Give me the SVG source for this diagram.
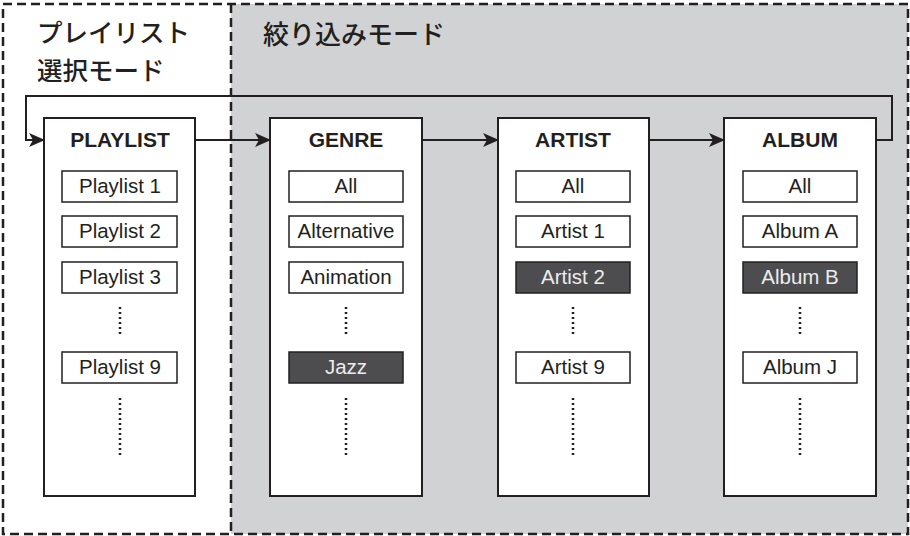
<svg xmlns="http://www.w3.org/2000/svg" width="910" height="536" viewBox="0 0 910 536">
<defs>
<style>
.col{fill:#fff;stroke:#231f20;stroke-width:2}
.it{fill:#fff;stroke:#231f20;stroke-width:1.5}
.sel{fill:#4d4d4f;stroke:#231f20;stroke-width:1.5}
.t{font-family:"Liberation Sans",Arial,sans-serif;font-size:20.5px;fill:#231f20;text-anchor:middle}
.ts{font-family:"Liberation Sans",Arial,sans-serif;font-size:20.5px;fill:#ececec;text-anchor:middle}
.h{font-family:"Liberation Sans",Arial,sans-serif;font-size:21px;font-weight:bold;fill:#231f20;text-anchor:middle}
.jp{font-family:"Noto Sans CJK JP","Noto Sans",sans-serif;font-size:26px;font-weight:500;fill:#231f20}
.jp2{font-family:"Noto Sans CJK JP","Noto Sans",sans-serif;font-size:25.5px;font-weight:500;fill:#231f20}
.dots{stroke:#231f20;stroke-width:2.5;stroke-dasharray:2 3}
.cn{fill:none;stroke:#231f20;stroke-width:2}
.dash{fill:none;stroke:#231f20;stroke-width:2.5;stroke-dasharray:9 5}
</style>
<marker id="arr" markerWidth="16" markerHeight="14" refX="15" refY="7" orient="auto" markerUnits="userSpaceOnUse">
<path d="M0,0 L16,7 L0,14 L4,7 Z" fill="#231f20"/>
</marker>
</defs>
<rect x="231" y="4" width="677" height="530" fill="#d1d2d4"/>
<rect x="3" y="4" width="228" height="530" fill="#fff"/>
<rect x="3" y="4" width="905" height="530" class="dash"/>
<line x1="231" y1="4" x2="231" y2="534" class="dash"/>
<text class="jp2" x="37" y="42">プレイリスト</text>
<text class="jp2" x="37" y="80">選択モード</text>
<text class="jp" x="263" y="44">絞り込みモード</text>
<g id="connectors">
<path class="cn" d="M876,140 H892 V96 H26 V140 H44" marker-end="url(#arr)"/>
<path class="cn" d="M195,140 H270" marker-end="url(#arr)"/>
<path class="cn" d="M422,140 H498" marker-end="url(#arr)"/>
<path class="cn" d="M649,140 H724" marker-end="url(#arr)"/>
</g>
<g id="playlist">
<rect class="col" x="44" y="118" width="151" height="378"/>
<text class="h" x="120" y="147">PLAYLIST</text>
<rect class="it" x="62" y="171" width="115" height="31"/><text class="t" x="120" y="193">Playlist 1</text>
<rect class="it" x="62" y="216" width="115" height="31"/><text class="t" x="120" y="238">Playlist 2</text>
<rect class="it" x="62" y="262" width="115" height="31"/><text class="t" x="120" y="284">Playlist 3</text>
<line class="dots" x1="120" y1="307" x2="120" y2="337"/>
<rect class="it" x="62" y="352" width="115" height="31"/><text class="t" x="120" y="374">Playlist 9</text>
<line class="dots" x1="120" y1="398" x2="120" y2="458"/>
</g>
<g id="genre">
<rect class="col" x="270" y="118" width="152" height="378"/>
<text class="h" x="346" y="147">GENRE</text>
<rect class="it" x="289" y="171" width="114" height="31"/><text class="t" x="346" y="193">All</text>
<rect class="it" x="289" y="216" width="114" height="31"/><text class="t" x="346" y="238">Alternative</text>
<rect class="it" x="289" y="262" width="114" height="31"/><text class="t" x="346" y="284">Animation</text>
<line class="dots" x1="346" y1="307" x2="346" y2="337"/>
<rect class="sel" x="289" y="352" width="114" height="31"/><text class="ts" x="346" y="374">Jazz</text>
<line class="dots" x1="346" y1="398" x2="346" y2="458"/>
</g>
<g id="artist">
<rect class="col" x="498" y="118" width="151" height="378"/>
<text class="h" x="573" y="147">ARTIST</text>
<rect class="it" x="516" y="171" width="114" height="31"/><text class="t" x="573" y="193">All</text>
<rect class="it" x="516" y="216" width="114" height="31"/><text class="t" x="573" y="238">Artist 1</text>
<rect class="sel" x="516" y="262" width="114" height="31"/><text class="ts" x="573" y="284">Artist 2</text>
<line class="dots" x1="573" y1="307" x2="573" y2="337"/>
<rect class="it" x="516" y="352" width="114" height="31"/><text class="t" x="573" y="374">Artist 9</text>
<line class="dots" x1="573" y1="398" x2="573" y2="458"/>
</g>
<g id="album">
<rect class="col" x="724" y="118" width="152" height="378"/>
<text class="h" x="800" y="147">ALBUM</text>
<rect class="it" x="743" y="171" width="114" height="31"/><text class="t" x="800" y="193">All</text>
<rect class="it" x="743" y="216" width="114" height="31"/><text class="t" x="800" y="238">Album A</text>
<rect class="sel" x="743" y="262" width="114" height="31"/><text class="ts" x="800" y="284">Album B</text>
<line class="dots" x1="800" y1="307" x2="800" y2="337"/>
<rect class="it" x="743" y="352" width="114" height="31"/><text class="t" x="800" y="374">Album J</text>
<line class="dots" x1="800" y1="398" x2="800" y2="458"/>
</g>
</svg>
